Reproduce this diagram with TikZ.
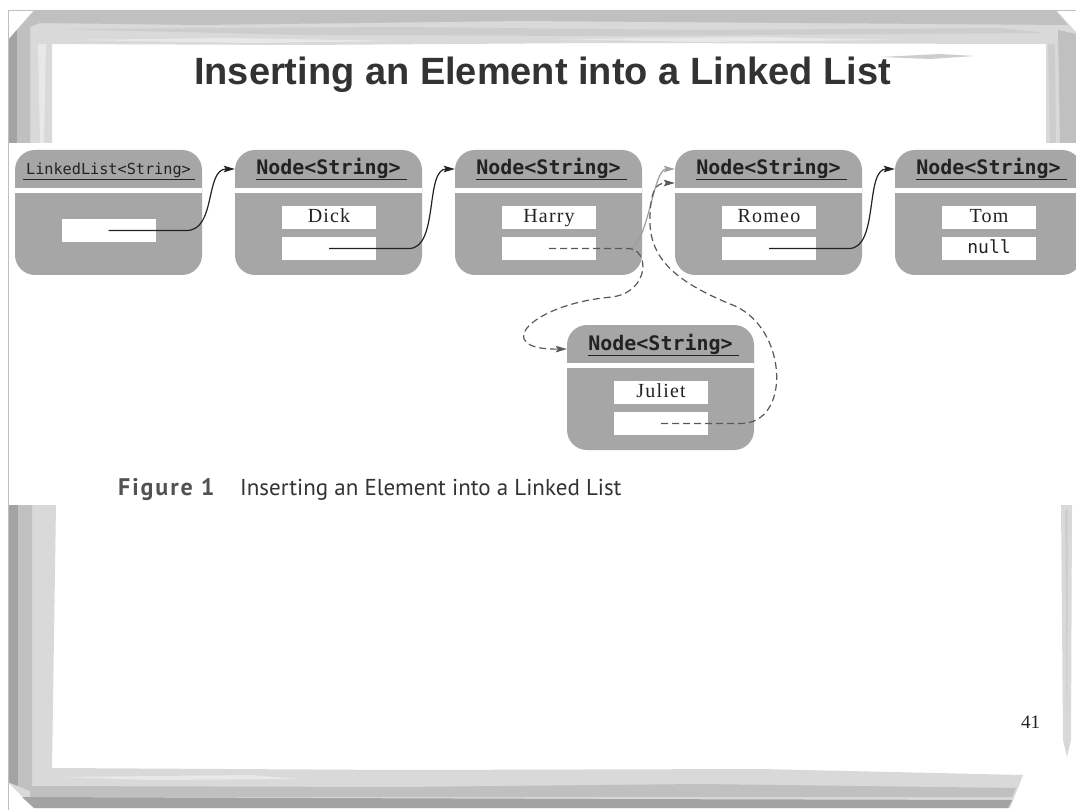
\documentclass[tikz,border=0pt]{standalone}
\usepackage{fontspec}
\setmainfont{Liberation Serif}
\newfontfamily\titlefont{Liberation Sans}
\newfontfamily\capfont{PT Sans}
\newfontfamily\codefont{DejaVu Sans Mono}
\newfontfamily\valfont[LetterSpace=6]{Liberation Serif}
\usetikzlibrary{arrows.meta}

\definecolor{boxgray}{RGB}{166,166,166}
\definecolor{frA}{RGB}{217,217,217}
\definecolor{frB}{RGB}{192,192,192}
\definecolor{frC}{RGB}{205,205,205}
\definecolor{frD}{RGB}{163,163,163}
\definecolor{frL}{RGB}{232,232,232}
\definecolor{inkdark}{RGB}{34,34,34}
\definecolor{titlegray}{RGB}{51,51,51}

\tikzset{
  boxbody/.style={draw=none, fill=boxgray, rounded corners=20pt,
    minimum width=187pt, minimum height=125pt, inner sep=0pt},
  headarea/.style={minimum width=187pt, minimum height=38pt, inner sep=0pt},
  headtext/.style={font=\codefont\bfseries\fontsize{20}{22}\selectfont,
    text=inkdark, inner sep=0pt, anchor=base},
  lltext/.style={font=\codefont\fontsize{15.2}{17}\selectfont,
    text=inkdark, inner sep=0pt, anchor=base},
  field/.style={fill=white, minimum width=94pt, minimum height=23pt,
    inner sep=0pt, text height=14pt, text depth=4pt,
    font=\valfont\fontsize{20}{22}\selectfont, text=inkdark},
  uline/.style={line width=1pt, inkdark},
  tipstyle/.style={-{Stealth[length=11pt,width=6.5pt,inset=2pt]}},
  link/.style={line width=1.2pt, inkdark, tipstyle},
  newlink/.style={line width=1.2pt, black!65, dash pattern=on 7pt off 4pt, tipstyle},
  oldlink/.style={line width=1.2pt, black!38, tipstyle},
  lnode/.pic={
    \node[boxbody] (-box) at (93.5,62.5) {};
    \fill[white] (0,38) rectangle (187,43);
    \node[headarea] (-head) at (93.5,19) {};
    \node[headtext] (-label) at (93.5,25) {Node<String>};
    \draw[uline] (21,30) -- (172,30);
    \node[field] (-val) at (94,67.5) {#1};
    \node[field] (-next) at (94,98.5) {};
  }
}

\begin{document}
\begin{tikzpicture}[x=1pt, y=-1pt]
\useasboundingbox (0,0) rectangle (1076,810);
\fill[white] (0,0) rectangle (1076,810);

% ---- sketched slide frame: upper part ----
\fill[frA] (8,40) -- (34,10) -- (1056,10) -- (1076,32) -- (1076,143) -- (1046,143)
  -- (1046,44) -- (600,43) -- (300,45) -- (52,44) -- (52,143) -- (8,143) -- cycle;
\fill[frB] (14,33) -- (34,11) -- (1056,11) -- (1068,25) -- (800,23) -- (520,21)
  -- (200,25) -- (40,23) -- cycle;
\fill[frC] (60,29) -- (400,27) -- (700,30) -- (1000,28) -- (1044,33) -- (600,36)
  -- (300,35) -- cycle;
\fill[frL] (70,40) -- (230,38) -- (400,41) -- (250,43) -- cycle;
\fill[frL] (550,39) -- (760,37) -- (900,40) -- (700,42) -- cycle;
\fill[frC] (880,57) -- (940,54) -- (975,56) -- (930,59) -- cycle;
\fill[frD] (8,40) -- (17,30) -- (17,143) -- (8,143) -- cycle;
\fill[frB] (17,30) -- (30,22) -- (30,143) -- (17,143) -- cycle;
\fill[frL] (38,44) -- (46,44) -- (44,143) -- (40,143) -- cycle;
\fill[frB] (1058,30) -- (1076,34) -- (1076,143) -- (1060,143) -- cycle;
\fill[frC] (1048,44) -- (1055,44) -- (1056,143) -- (1050,143) -- cycle;

% ---- sketched slide frame: lower part ----
\fill[frA] (8,505) -- (56,505) -- (52,768) -- (400,770) -- (760,769) -- (1023,775)
  -- (1010,808) -- (34,808) -- (8,782) -- cycle;
\fill[frD] (8,505) -- (18,505) -- (18,786) -- (8,782) -- cycle;
\fill[frB] (18,505) -- (32,505) -- (32,792) -- (18,786) -- cycle;
\fill[frB] (30,786) -- (400,787) -- (700,784) -- (1016,788) -- (1012,797) -- (30,797) -- cycle;
\fill[frD] (22,797) -- (600,799) -- (1012,800) -- (1008,808) -- (34,808) -- cycle;
\fill[frL] (60,777) -- (250,775) -- (300,779) -- (150,780) -- cycle;
\fill[frA] (1061,505) -- (1072,505) -- (1071,740) -- (1067,757) -- (1063,740) -- cycle;
\fill[frC] (1065,510) -- (1068,510) -- (1067,750) -- cycle;

% ---- white figure band ----
\fill[white] (8.6,143) rectangle (1076,505);
\draw[black!25, line width=0.8pt] (8,810) -- (8,10) -- (1076,10);

% ---- title ----
\node[anchor=base, text=titlegray, font=\titlefont\bfseries\fontsize{38}{44}\selectfont,
  inner sep=0pt] (title) at (542.5,85) {Inserting an Element into a Linked List};

% ---- list head ----
\node[boxbody] (ll-box) at (108.5,212.5) {};
\fill[white] (15,188) rectangle (202,193);
\node[headarea] (ll-head) at (108.5,169) {};
\node[lltext] (ll-label) at (108.5,175) {LinkedList<String>};
\draw[uline] (23,180) -- (195,180);
\node[field] (ll-next) at (108.5,230.5) {};

% ---- list nodes ----
\pic (dick)   at (235,150) {lnode=Dick};
\pic (harry)  at (455,150) {lnode=Harry};
\pic (romeo)  at (675,150) {lnode=Romeo};
\pic (tom)    at (895,150) {lnode=Tom};
\pic (juliet) at (567,325) {lnode=Juliet};
\node[font=\codefont\fontsize{18}{20}\selectfont, text=inkdark, inner sep=0pt,
  text height=13pt, text depth=3pt] (tom-null) at (tom-next) {null};

% ---- links ----
\draw[link] (ll-next.center) -- ++(78,0) .. controls +(30,0) and +(-30,0) .. (dick-head.west);
\draw[link] (dick-next.center) -- ++(80,0) .. controls +(30,0) and +(-30,0) .. (harry-head.west);
\draw[link] (romeo-next.center) -- ++(80,0) .. controls +(30,0) and +(-30,0) .. (tom-head.west);

% old link, now replaced
\draw[oldlink] ([xshift=79pt]harry-next.center) .. controls +(20,0) and +(-22,0) .. (romeo-head.west);

% new links through the inserted node
\draw[newlink] (harry-next.center) -- ++(79,0)
  .. controls +(22,0) and (650,292) .. (612,297)
  .. controls (530,304) and (490,350) .. ([yshift=-5pt]juliet-head.west);
\draw[newlink] (juliet-next.center) -- ++(80,0)
  .. controls +(50,0) and (788,330) .. (735,306)
  .. controls (670,280) and (648,255) .. (650,215)
  .. controls (651,192) and (655,183) .. ([yshift=-14pt]romeo-head.west);

% ---- caption and page number ----
\node[anchor=base west, inner sep=0pt, text=black!68,
  font=\capfont\bfseries\fontsize{24}{28}\selectfont\addfontfeature{LetterSpace=8}]
  (cap-num) at (118,495) {Figure 1};
\node[anchor=base west, inner sep=0pt, text=titlegray,
  font=\capfont\fontsize{23}{28}\selectfont]
  (cap-text) at (240,495) {Inserting an Element into a Linked List};
\node[anchor=base west, inner sep=0pt, text=inkdark, font=\fontsize{19}{22}\selectfont]
  (pagenum) at (1021,728) {41};
\end{tikzpicture}
\end{document}
